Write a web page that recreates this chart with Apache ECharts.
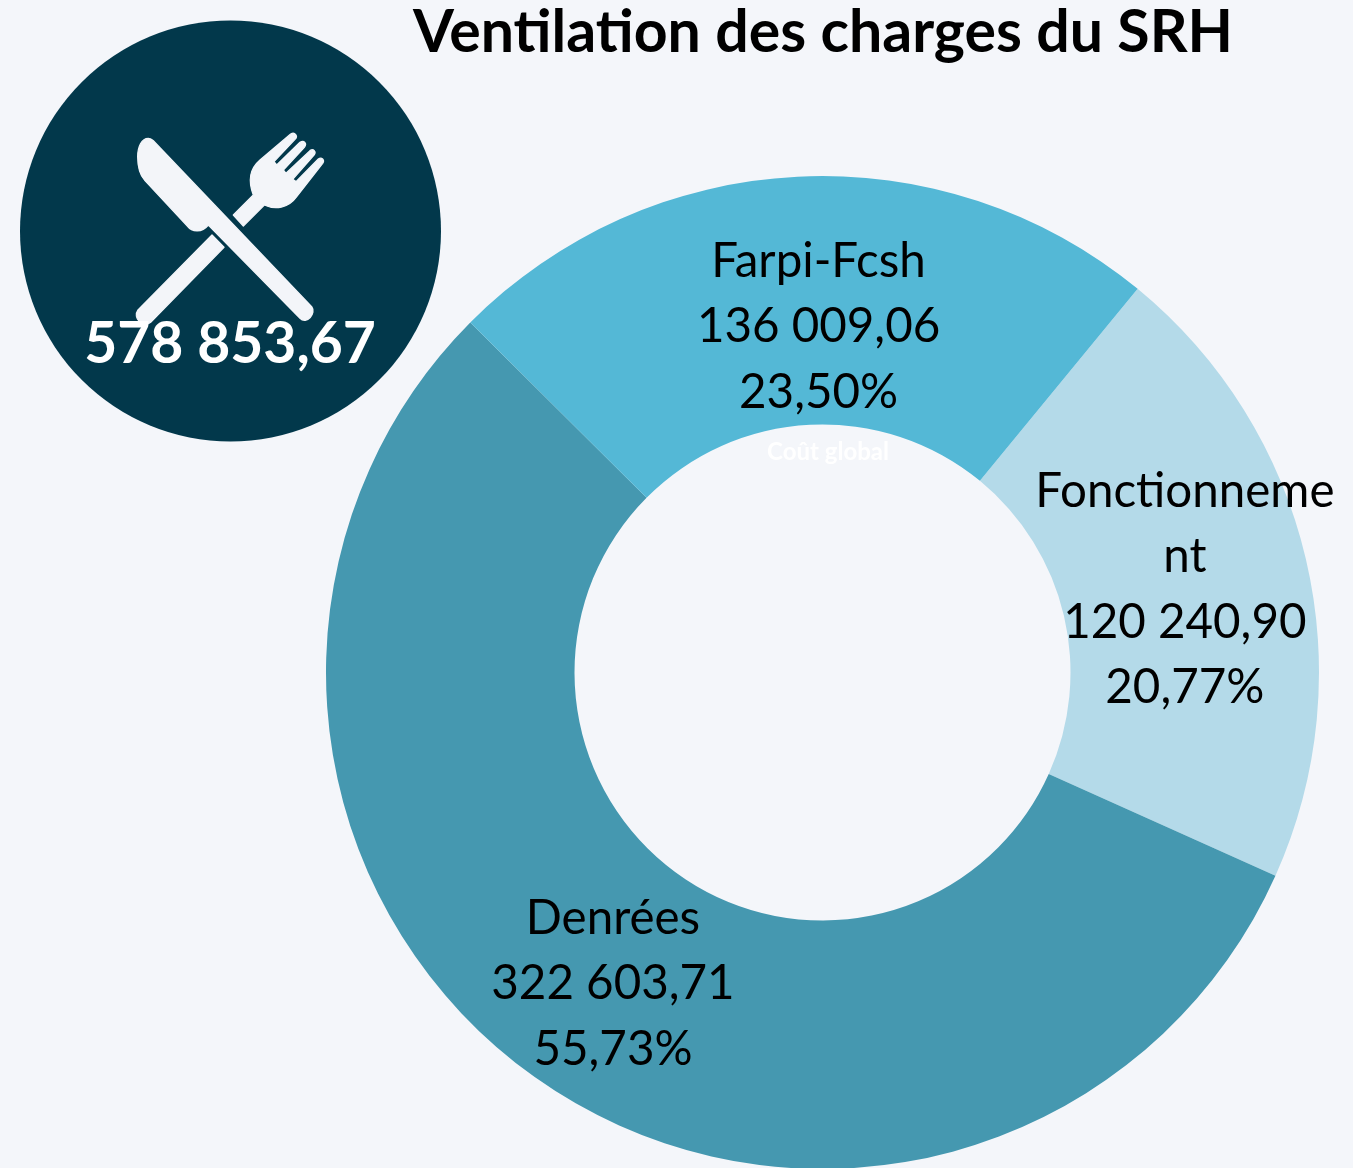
<!DOCTYPE html>
<html>
<head>
<meta charset="utf-8">
<style>html,body{margin:0;padding:0;background:#f4f6fa;overflow:hidden}#c{width:1353px;height:1168px}</style>
<script src="https://cdn.jsdelivr.net/npm/echarts@6/dist/echarts.min.js"></script>
</head>
<body>
<div id="c"></div>
<script>
const categories = ['Fonctionnement', 'Denrées', 'Farpi-Fcsh'];
const wrappedNames = ['Fonctionneme\nnt', 'Denrées', 'Farpi-Fcsh'];
const values = [120240.90, 322603.71, 136009.06];
const percents = ['20,77%', '55,73%', '23,50%'];
const colors = ['#b4dae9', '#4598b0', '#54b8d6'];
const totalLabel = '578 853,67';
const titleText = 'Ventilation des charges du SRH';
const centerText = 'Coût global';

const FONT = 'Lato, "Open Sans", sans-serif';
const fmt = v => {
  const [a, b] = v.toFixed(2).split('.');
  return a.replace(/\B(?=(\d{3})+$)/g, ' ') + ',' + b;
};
const offsets = [[-3, 3], [3, 2], [15, 29]];

const iconPath = 'M145 85 C125 85 113 110 113 140 C113 175 120 195 135 212 L262 348 C275 365 305 370 325 345 L600 625 C620 645 650 610 635 590 L160 92 C155 87 150 85 145 85 Z' +
  ' M114 600 L336 375 L372 412 L152 637 C130 654 96 625 114 600 Z' +
  ' M400 315 L460 255 C445 215 445 180 480 150 L572 72 C585 65 595 78 585 88 L522 155 L530 165 L600 97 C612 90 622 100 613 112 L550 180 L558 190 L630 122 C640 115 650 125 642 135 L578 208 L588 215 L655 147 C665 140 675 150 668 160 L590 260 C565 295 525 300 493 285 L430 348 Z';
echarts.graphic.registerShape('cutlery', echarts.graphic.extendPath(iconPath, {}));

const chart = echarts.init(document.getElementById('c'), null, {renderer: 'canvas'});
chart.setOption({
  backgroundColor: '#f4f6fa',
  animation: false,
  title: {
    text: titleText, left: 818, top: -6, textAlign: 'center',
    textStyle: {fontFamily: FONT, fontWeight: 'bold', fontSize: 59, color: '#000', lineHeight: 68}
  },
  series: [{
    type: 'pie',
    center: [822.5, 672.5],
    radius: [248, 496.5],
    startAngle: 50.6,
    clockwise: true,
    silent: true,
    labelLine: {show: false},
    label: {
      position: 'inside', color: '#000', fontFamily: FONT, fontSize: 47.5,
      lineHeight: 65.5, align: 'center'
    },
    data: categories.map((name, i) => ({
      name, value: values[i],
      itemStyle: {color: colors[i]},
      label: {
        offset: offsets[i],
        formatter: wrappedNames[i] + '\n' + fmt(values[i]) + '\n' + percents[i]
      }
    }))
  }],
  graphic: [
    {type: 'circle', shape: {cx: 230.5, cy: 231, r: 210.5}, style: {fill: '#02384b'}, z: 1},
    {
      type: 'cutlery', x: 100, y: 110, scaleX: 1/3, scaleY: 1/3, z: 2,
      style: {fill: '#f3f5f9', stroke: '#f3f5f9', lineWidth: 4, lineJoin: 'round'}
    },
    {
      type: 'text', x: 230, y: 345, z: 3,
      style: {text: totalLabel, fill: '#fff', font: 'bold 57px ' + FONT, align: 'center', verticalAlign: 'middle'}
    },
    {
      type: 'text', x: 828, y: 452, z: 3,
      style: {text: centerText, fill: '#ffffff', font: 'bold 24px ' + FONT, align: 'center', verticalAlign: 'middle'}
    }
  ]
});
</script>
</body>
</html>
